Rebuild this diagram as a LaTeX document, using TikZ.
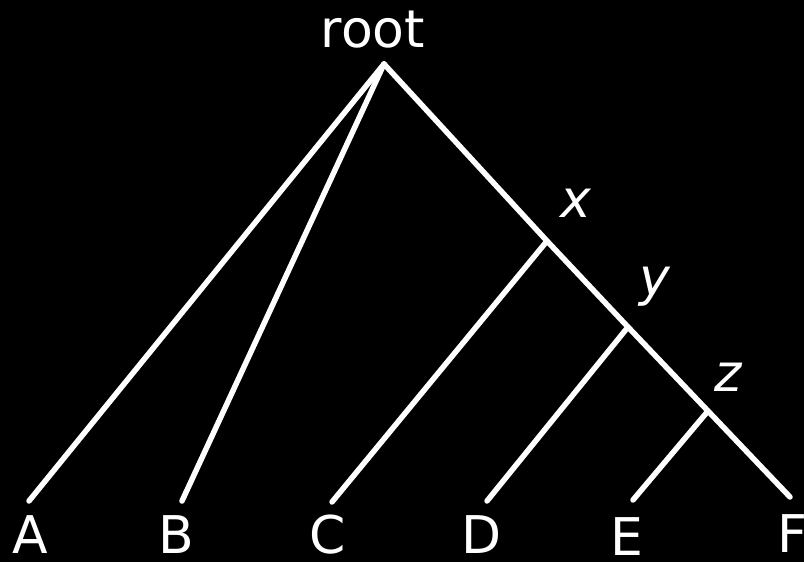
\documentclass[tikz,border=0pt]{standalone}
\usepackage{fontspec}
\setmainfont{DejaVu Sans}
\begin{document}
\begin{tikzpicture}[x=1pt, y=-1pt, line width=5.5pt, line cap=round, white,
  lbl/.style={font=\fontsize{52}{58}\selectfont, inner sep=0pt, anchor=base},
  ilbl/.style={lbl, font=\fontsize{52}{58}\selectfont\itshape}]
  \fill[black] (0,0) rectangle (804,562);
  \useasboundingbox (0,0) rectangle (804,562);
  % inner vertices
  \coordinate (root) at (384,64);
  \coordinate (x) at (547,241);
  \coordinate (y) at (628,327);
  \coordinate (z) at (708,411);
  % leaf ends
  \coordinate (a) at (29,501);
  \coordinate (b) at (182,501);
  \coordinate (c) at (332,502);
  \coordinate (d) at (487,501);
  \coordinate (e) at (633,500);
  \coordinate (f) at (790,497);
  \draw (root) -- (a);
  \draw (root) -- (b);
  \draw (root) -- (x) -- (y) -- (z) -- (f);
  \draw (x) -- (c);
  \draw (y) -- (d);
  \draw (z) -- (e);
  \node[lbl] (rootlbl) at (373,47) {root};
  \node[ilbl] (xlbl) at (576,217) {x};
  \node[ilbl] (ylbl) at (655,295) {y};
  \node[ilbl] (zlbl) at (728,391) {z};
  \node[lbl] (albl) at (30,553) {A};
  \node[lbl] (blbl) at (176,553) {B};
  \node[lbl] (clbl) at (328,553) {C};
  \node[lbl] (dlbl) at (482,553) {D};
  \node[lbl] (elbl) at (627,555) {E};
  \node[lbl] (flbl) at (792,552) {F};
\end{tikzpicture}
\end{document}
